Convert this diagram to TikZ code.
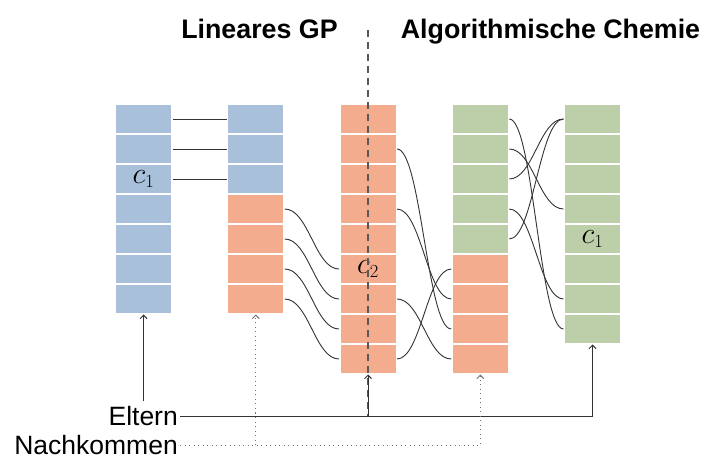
\RequirePackage{fix-cm}
\documentclass[tikz,border=0pt]{standalone}
\usepackage[no-math]{fontspec}
\newfontfamily\hv{Liberation Sans}
\usetikzlibrary{arrows.meta}
\DeclareMathSizes{30}{30}{18.5}{14}
\definecolor{cellblue}{HTML}{A9C0DA}
\definecolor{cellorange}{HTML}{F4AC8F}
\definecolor{cellgreen}{HTML}{BDCFA9}
\definecolor{wire}{HTML}{333333}
\begin{document}
\begin{tikzpicture}[x=1pt,y=-1pt,
  cell/.style={minimum width=55pt,minimum height=28pt,inner sep=0pt,outer sep=1.5pt},
  link/.style={draw=wire,line width=0.9pt},
  swap/.style={link},
  title/.style={font=\hv\bfseries\fontsize{26.8}{30}\selectfont,inner sep=0pt,anchor=base},
  caption/.style={font=\hv\fontsize{26.5}{30}\selectfont,anchor=east,inner xsep=2pt,inner ysep=5pt},
  gene/.style={font=\fontsize{30}{34}\selectfont,inner sep=0pt},
  parent/.style={draw=wire,line width=0.9pt,-{Straight Barb[length=3.5pt,width=7pt]}},
  child/.style={draw=black!55,line width=0.9pt,dash pattern=on 1pt off 3.5pt,
    -{Straight Barb[length=3.5pt,width=7pt]}},
  cut/.style={draw=black!65,line width=1.3pt,dash pattern=on 7pt off 5pt}]
\useasboundingbox (0,0) rectangle (705,457);

% first parent (linear GP)
\foreach \i in {0,...,6}
  \node[cell,fill=cellblue] (a\i) at (143.5,119+30*\i) {};
% second parent
\foreach \i in {0,...,2}
  \node[cell,fill=cellblue] (b\i) at (255.75,119+30*\i) {};
\foreach \i in {3,...,6}
  \node[cell,fill=cellorange] (b\i) at (255.75,119+30*\i) {};
% offspring of linear GP
\foreach \i in {0,...,8}
  \node[cell,fill=cellorange] (c\i) at (368,119+30*\i) {};
% parent in algorithmic chemistry
\foreach \i in {0,...,4}
  \node[cell,fill=cellgreen] (d\i) at (480.25,119+30*\i) {};
\foreach \i in {5,...,8}
  \node[cell,fill=cellorange] (d\i) at (480.25,119+30*\i) {};
% offspring in algorithmic chemistry
\foreach \i in {0,...,7}
  \node[cell,fill=cellgreen] (e\i) at (592.5,119+30*\i) {};

% gene labels
\node[gene] (g1) at (a2) {$c_1$};
\node[gene] (g2) at (c5) {$c_2$};
\node[gene] (g3) at (e4) {$c_1$};

% column 1 -> column 2
\foreach \i in {0,1,2}
  \draw[link] (a\i.east) -- (b\i.west);
% column 2 -> column 3
\foreach \s/\t in {3/5,4/6,5/7,6/8}
  \draw[swap] (b\s.east) .. controls +(24,0) and +(-24,0) .. (c\t.west);
% column 3 -> column 4
\foreach \s/\t in {1/7,3/6,6/8,8/5}
  \draw[swap] (c\s.east) .. controls +(24,0) and +(-24,0) .. (d\t.west);
% column 4 -> column 5
\foreach \s/\t in {0/7,1/3,2/0,3/6,4/0}
  \draw[swap] (d\s.east) .. controls +(24,0) and +(-24,0) .. (e\t.west);

% titles and dividing line
\node[title] (lgp) at (259.5,39) {Lineares GP};
\node[title] (ac) at (550.5,39) {Algorithmische Chemie};
\coordinate (cuttop) at (368,30);
\coordinate (cutbot) at (368,416);
\draw[cut] (cuttop) -- (cutbot);

% legend
\node[caption] (eltern) at (180,416) {Eltern};
\node[caption] (nachk) at (180,445) {Nachkommen};
\draw[parent] (eltern.north -| a6.south) -- (a6.south);
\draw[parent] (eltern.east) -| (e7.south);
\draw[parent] (eltern.east -| c8.south) -- (c8.south);
\draw[child] (nachk.east) -| (d8.south);
\draw[child] (nachk.east -| b6.south) -- (b6.south);
\end{tikzpicture}
\end{document}
